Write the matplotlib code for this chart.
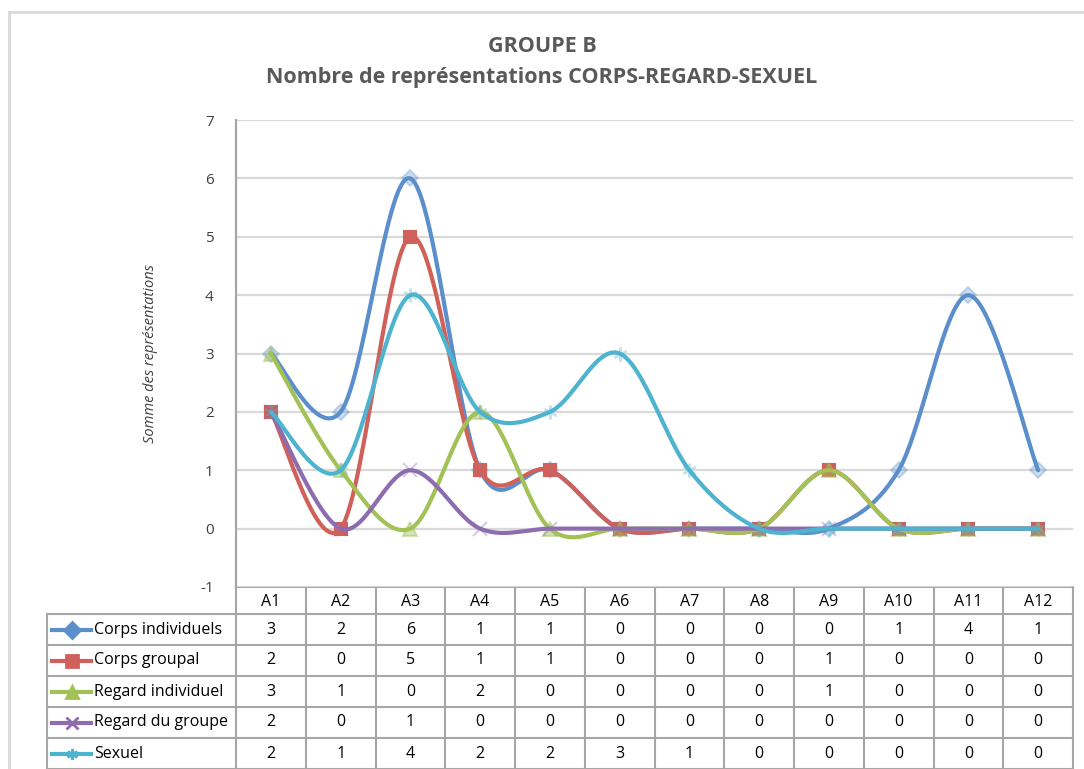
import matplotlib
matplotlib.use("Agg")
import matplotlib.pyplot as plt
import numpy as np

# data
categories = ["A1", "A2", "A3", "A4", "A5", "A6", "A7", "A8", "A9", "A10", "A11", "A12"]
corps_individuels = [3, 2, 6, 1, 1, 0, 0, 0, 0, 1, 4, 1]
corps_groupal = [2, 0, 5, 1, 1, 0, 0, 0, 1, 0, 0, 0]
regard_individuel = [3, 1, 0, 2, 0, 0, 0, 0, 1, 0, 0, 0]
regard_du_groupe = [2, 0, 1, 0, 0, 0, 0, 0, 0, 0, 0, 0]
sexuel = [2, 1, 4, 2, 2, 3, 1, 0, 0, 0, 0, 0]

series_names = ["Corps individuels", "Corps groupal", "Regard individuel",
                "Regard du groupe", "Sexuel"]
series_values = [corps_individuels, corps_groupal, regard_individuel,
                 regard_du_groupe, sexuel]
colors = ["#5B8FCB", "#D0605A", "#A2C257", "#8D6CB0", "#4DB3CF"]
markers = ["D", "s", "^", "x", (6, 2, 0)]
marker_alpha = [0.3, 1.0, 0.45, 0.35, 0.35]
marker_size = [8, 9, 10, 10, 10]

plt.rcParams['font.family'] = ['Open Sans', 'DejaVu Sans']
plt.rcParams['axes.unicode_minus'] = False
txt_color = "#404040"
W, H = 1084, 769


def smooth(x, y, n=30):
    # excel-like smoothed line (catmull-rom bezier)
    x = np.asarray(x, float)
    y = np.asarray(y, float)
    px, py = [], []
    t = np.linspace(0, 1, n)
    for i in range(len(x) - 1):
        i0 = max(i - 1, 0)
        i3 = min(i + 2, len(x) - 1)
        c1x = x[i] + (x[i + 1] - x[i0]) / 6
        c1y = y[i] + (y[i + 1] - y[i0]) / 6
        c2x = x[i + 1] - (x[i3] - x[i]) / 6
        c2y = y[i + 1] - (y[i3] - y[i]) / 6
        bx = (1 - t) ** 3 * x[i] + 3 * (1 - t) ** 2 * t * c1x + 3 * (1 - t) * t ** 2 * c2x + t ** 3 * x[i + 1]
        by = (1 - t) ** 3 * y[i] + 3 * (1 - t) ** 2 * t * c1y + 3 * (1 - t) * t ** 2 * c2y + t ** 3 * y[i + 1]
        px.extend(bx)
        py.extend(by)
    return px, py


fig = plt.figure(figsize=(W / 100, H / 100), dpi=100)

# background axes in pixel coordinates for border and table
bg = fig.add_axes([0, 0, 1, 1])
bg.set_xlim(0, W)
bg.set_ylim(H, 0)
bg.axis("off")
bg.plot([9, 9], [12, H], color="#D9D9D9", lw=2)
bg.plot([9, W], [12, 12], color="#D9D9D9", lw=2)

# plot area
px0, px1, py0, py1 = 236, 1073, 120, 587
ax = fig.add_axes([px0 / W, 1 - py1 / H, (px1 - px0) / W, (py1 - py0) / H])
x = np.arange(1, len(categories) + 1)
ax.set_xlim(0.5, len(categories) + 0.5)
ax.set_ylim(-1, 7)
ax.set_yticks(range(-1, 8))
ax.yaxis.grid(True, color="#D9D9D9", lw=1.6)
ax.set_axisbelow(True)
ax.set_xticks([])
for s in ["top", "right", "bottom"]:
    ax.spines[s].set_visible(False)
ax.spines["left"].set_color("#A6A6A6")
ax.spines["left"].set_linewidth(1.6)
ax.tick_params(axis="y", length=0, pad=16, labelsize=11, labelcolor=txt_color)
ax.set_ylabel("Somme des représentations", fontsize=10.5, style="italic",
              color=txt_color)
ax.yaxis.set_label_coords((158 - px0) / (px1 - px0), 0.5)

for vals, col, mk, ma, ms in zip(series_values, colors, markers, marker_alpha, marker_size):
    sx, sy = smooth(x, vals)
    ax.plot(x, vals, linestyle="none", marker=mk, markersize=ms,
            color=col, alpha=ma, markeredgewidth=1.5, clip_on=False, zorder=2)
    ax.plot(sx, sy, color=col, lw=3, solid_capstyle="round", clip_on=False, zorder=3)

fig.text(0.5, 1 - 47 / H, "GROUPE B", ha="center", va="center", fontsize=15.5,
         fontweight="bold", color="#595959")
fig.text(0.5, 1 - 77 / H, "Nombre de représentations CORPS-REGARD-SEXUEL", ha="center",
         va="center", fontsize=15.5, fontweight="bold", color="#595959")

# data table
grid_col = "#A6A6A6"
col_w = (px1 - px0) / len(categories)
row_h = 31
head_top, head_bot = 587, 614
lx0 = 47
fs = 11.5
# header cells
bg.plot([px0, px1], [head_top, head_top], color=grid_col, lw=1.5)
for i in range(len(categories) + 1):
    xx = px0 + i * col_w
    bg.plot([xx, xx], [head_top, H], color=grid_col, lw=1.5)
for i, c in enumerate(categories):
    bg.text(px0 + (i + 0.5) * col_w, (head_top + head_bot) / 2 + 1, c, ha="center",
            va="center", fontsize=fs, color="black")
# rows
bg.plot([lx0, lx0], [head_bot, H], color=grid_col, lw=1.5)
for r in range(len(series_names) + 1):
    yy = head_bot + r * row_h
    bg.plot([lx0, px1], [yy, yy], color=grid_col, lw=1.5)
for r, (name, vals, col, mk) in enumerate(zip(series_names, series_values, colors, markers)):
    yc = head_bot + (r + 0.5) * row_h
    bg.plot([52, 91], [yc, yc], color=col, lw=3)
    bg.plot([71.5], [yc], marker=mk, color=col, markersize=8, markeredgewidth=2)
    bg.text(94, yc, name, ha="left", va="center", fontsize=fs, color="black")
    for i, v in enumerate(vals):
        bg.text(px0 + (i + 0.5) * col_w, yc, str(v), ha="center", va="center",
                fontsize=fs, color="black")

fig.savefig("out.png", dpi=100)
